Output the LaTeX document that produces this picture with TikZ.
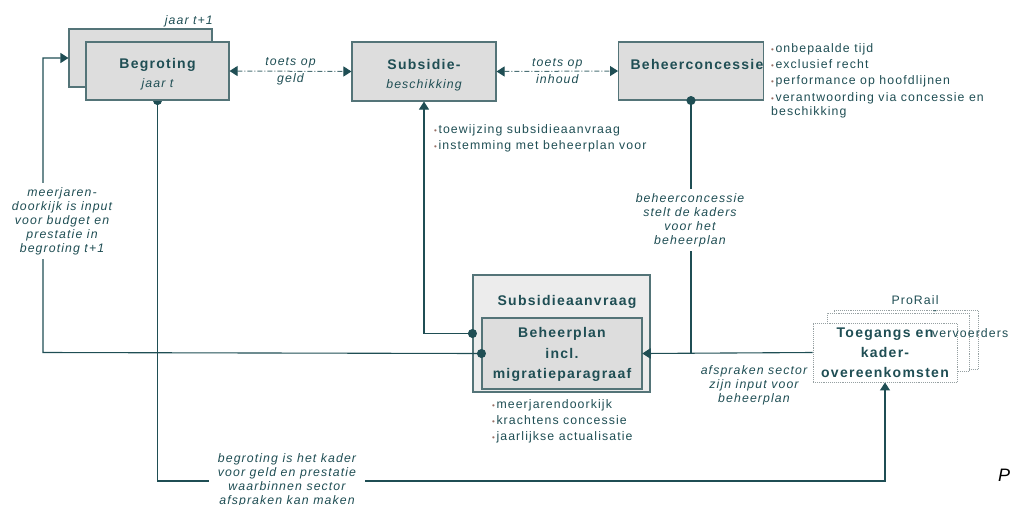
\documentclass[tikz,border=0pt]{standalone}
\usepackage{fontspec}
\setmainfont{Liberation Sans}[LetterSpace=9]
\newfontfamily\plainfont{Liberation Sans}
\usepackage{tikz}
\usetikzlibrary{arrows.meta, backgrounds}

\definecolor{inkt}{RGB}{31,78,84}
\definecolor{rand}{RGB}{84,116,120}
\definecolor{vulgrijs}{RGB}{221,221,221}
\definecolor{lichtgrijs}{RGB}{236,236,236}
\definecolor{stippel}{RGB}{150,160,162}
\definecolor{bulletbruin}{RGB}{150,110,100}

\newcommand{\klein}{\fontsize{12.3}{16.3}\selectfont}
\newcommand{\titel}{\fontsize{14}{18}\selectfont\bfseries}
\newcommand{\bul}{{\color{bulletbruin}\fontsize{8}{8}\selectfont\textbullet}\hspace{1.5pt}}

\begin{document}
\begin{tikzpicture}[x=1pt, y=-1pt]
        % Setup the styles for the boxes and labels
        \tikzset{box style/.style={draw=rand,
                                   line width=1.1pt,
                                   fill=vulgrijs,
                                   inner sep=0pt,
                                   align=center,
                                   text=inkt,
                                   font=\titel},
                 dotted box/.style={draw=stippel, densely dotted, line width=0.9pt,
                                    fill=white, minimum width=144pt, minimum height=59pt,
                                    inner sep=0pt, align=center, text=inkt},
                 label style/.style={text=inkt, align=center, inner sep=1pt,
                                     font=\fontsize{12.3}{14}\selectfont\itshape},
                 bullet style/.style={text=inkt, align=left, anchor=north west,
                                      inner sep=0pt, font=\klein},
                 lijn/.style={draw=inkt, line width=1.1pt},
                 pijl/.style={lijn, -{Triangle[length=8pt,width=10pt]}},
                 bolpijl/.style={lijn, {Circle[length=9pt]}-{Triangle[length=8pt,width=10pt]},
                                 shorten <=-4.5pt},
                 toets pijl/.style={draw=inkt!80, line width=1pt,
                                    dash pattern=on 5pt off 2pt on 1pt off 2pt,
                                    {Triangle[length=8pt,width=10pt,color=inkt]}-{Triangle[length=8pt,width=10pt,color=inkt]}}}

        \useasboundingbox (0,0) rectangle (1013,504);

        % Draw the boxes
        \node[box style, minimum width=143pt, minimum height=58pt] at (140.5,58) (volgjaar) {};
        \node[box style, minimum width=143pt, minimum height=58pt] at (157.5,71) (begroting)
            {\rule{0pt}{17pt}Begroting\\[1pt]{\normalfont\klein\itshape jaar t}};
        \node[box style, minimum width=144pt, minimum height=59pt] at (424,71.5) (subsidie)
            {\rule{0pt}{17pt}Subsidie-\\[1pt]{\normalfont\klein\itshape beschikking}};
        \node[box style, minimum width=144pt, minimum height=58pt] at (691,71) (concessie)
            {\rule{0pt}{17pt}\hspace*{12pt}Beheerconcessie\\[3pt]\mbox{}};
        \node[box style, fill=lichtgrijs, minimum width=177pt, minimum height=117pt]
            at (561.5,333.5) (aanvraag) {};
        \node[box style, minimum width=160pt, minimum height=71pt, font=\fontsize{14}{20.5}\selectfont\bfseries]
            at (562,353.5) (plan) {\rule{0pt}{12pt}Beheerplan\\incl.\\migratieparagraaf};
        \node[text=inkt, font=\titel] at (567,302) (aanvraagtitel) {Subsidieaanvraag};

        \node[dotted box] at (906,339.5) (toegang3) {};
        \node[dotted box, minimum width=142pt, minimum height=58pt] at (898,342) (toegang2) {};
        \node[dotted box, font=\fontsize{14}{20}\selectfont\bfseries] at (885,352.5) (toegang)
            {Toegangs en\\kader-\\overeenkomsten};

        % Texts next to the boxes
        \node[text=inkt, anchor=base east, inner sep=0pt, font=\klein\itshape] at (213,24) (jaartekst) {jaar t+1};
        \node[text=inkt, inner sep=0pt, font=\klein] at (915,300) (prorail) {ProRail};
        \node[text=inkt, inner sep=0pt, font=\klein] at (935,313) (streep) {-};
        \node[text=inkt, anchor=base west, inner sep=0pt, font=\klein] at (932,337) (vervoerders) {vervoerders};

        \node[bullet style] at (771,43) (concessiepunten)
            {\bul onbepaalde tijd\\\bul exclusief recht\\\bul performance op hoofdlijnen\\
             \bul verantwoording via concessie en\\[-2pt]beschikking};
        \node[bullet style] at (434,124) (subsidiepunten)
            {\bul toewijzing subsidieaanvraag\\\bul instemming met beheerplan voor};
        \node[bullet style] at (492,399) (planpunten)
            {\bul meerjarendoorkijk\\\bul krachtens concessie\\\bul jaarlijkse actualisatie};

        % Connect the boxes with arrows
        \draw[toets pijl] (begroting.east) -- node[label style, font=\fontsize{12.3}{17}\selectfont\itshape] {toets op\\geld} (subsidie.west);
        \draw[toets pijl] (subsidie.east) -- node[label style, font=\fontsize{12.3}{17}\selectfont\itshape] {toets op\\inhoud} (concessie.west);

        \coordinate (links) at (43,352.5);
        \coordinate (onder) at (157.5,481);

        \begin{scope}[on background layer]
            \draw[bolpijl] (begroting.south) -- (onder) -| (toegang.south);
        \end{scope}
        \draw[bolpijl] (concessie.south) |- (plan.east);
        \draw[pijl] (toegang.west) -- (plan.east);
        \draw[bolpijl] (aanvraag.west) -| (subsidie.south);
        \draw[bolpijl] (plan.west) -- (links) |- (volgjaar.west);

        % Labels on the connectors
        \node[label style, fill=white, inner sep=4pt] at (62,221) (doorkijk)
            {meerjaren-\\doorkijk is input\\voor budget en\\prestatie in\\begroting t+1};
        \node[label style, fill=white, inner sep=4pt] at (690,220) (kaders)
            {beheerconcessie\\stelt de kaders\\voor het\\beheerplan};
        \node[label style] at (754,385) (afspraken)
            {afspraken sector\\zijn input voor\\beheerplan};
        \node[label style, fill=white, inner xsep=9pt, inner ysep=2pt] at (287,480) (kader)
            {begroting is het kader\\voor geld en prestatie\\waarbinnen sector\\afspraken kan maken};

        \node[anchor=base west, inner sep=0pt, font=\plainfont\fontsize{18}{20}\selectfont\itshape] at (998,481) (pagina) {P};
\end{tikzpicture}
\end{document}
